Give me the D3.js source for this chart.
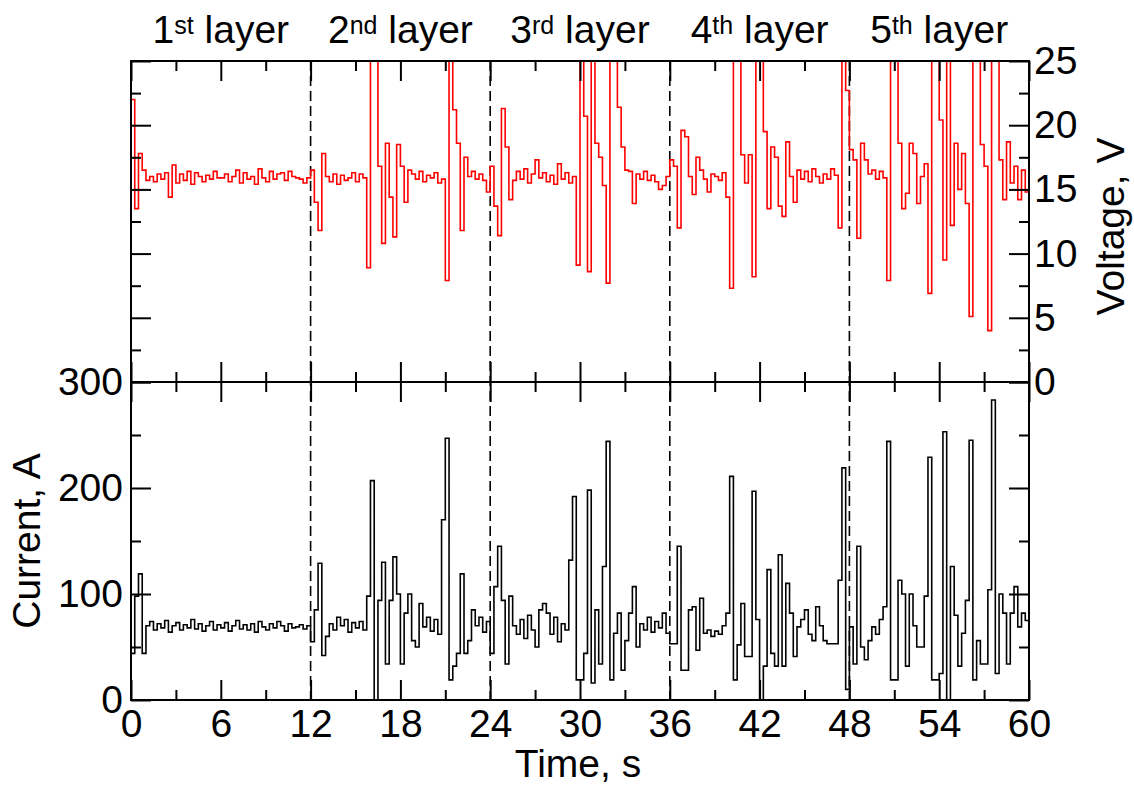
<!DOCTYPE html>
<html>
<head>
<meta charset="utf-8">
<script src="https://cdn.jsdelivr.net/npm/d3@7"></script>
<style>
  body { margin: 0; background: #fff; }
  svg { display: block; }
</style>
</head>
<body>
<div id="chart"></div>
<script>
const dt = 0.25;
const voltage = [
  22, 13.5, 17.8, 16.5,   15.7, 16.0, 15.6, 16.2,   15.8, 16.3, 14.4, 16.9,   15.5, 16.2, 15.7, 16.4,
  15.4, 16.3, 16.0, 15.6,   16.1, 15.8, 16.4, 15.9,   15.9, 16.2, 15.6, 16.0,   16.5, 15.5, 16.3, 15.8,
  16.0, 15.4, 16.6, 15.9,   15.6, 16.4, 15.8, 16.2,   16.3, 15.7, 16.4, 16.0,   15.9, 15.8, 15.5, 15.9,
  16.5, 14.0, 11.8, 17.8,   16.0, 15.6, 16.2, 15.4,   16.1, 15.7, 15.9, 16.3,   15.6, 16.2, 15.9, 8.9,
  30, 30, 16.8, 10.8,       18.6, 14.4, 11.3, 18.5,   16.8, 14.0, 16.5, 16.2,   15.8, 16.4, 15.6, 16.1,
  15.9, 16.3, 15.5, 15.8,   7.9, 30, 21.2, 18.6,      11.8, 17.5, 16.0, 16.4,   15.8, 16.2, 15.7, 14.8,
  16.8, 13.7, 11.4, 21.3,   18.3, 14.2, 15.7, 16.4,   15.8, 16.6, 15.5, 16.2,   17.3, 15.9, 16.3, 15.6,
  16.1, 15.4, 17.0, 15.8,   16.3, 15.5, 16.0, 9.1,    30, 20.7, 8.6, 30,        18.6, 17.5, 15.3, 7.7,
  30, 30, 21.4, 18.3,       16.5, 16.4, 13.9, 16.2,   15.8, 16.4, 15.7, 16.1,   15.6, 15.0, 15.3, 16.0,
  17.3, 16.8, 12.0, 19.6,   19.1, 16.0, 14.6, 17.5,   16.5, 15.8, 14.8, 16.2,   16.0, 15.7, 16.3, 14.4,
  7.3, 30, 30, 17.7,        15.5, 17.7, 8.2, 30,      30, 19.5, 13.5, 18.3,     17.5, 13.7, 12.9, 18.7,
  16.0, 14.0, 16.5, 15.8,   16.4, 15.6, 16.6, 16.0,   15.5, 16.2, 15.8, 16.6,   16.1, 12.0, 30, 22.7,
  18.1, 17.3, 11.2, 18.6,   17.3, 16.2, 16.5, 15.8,   16.4, 15.9, 7.9, 30,      30, 18.6, 13.5, 14.7,
  18.6, 17.8, 13.9, 16.0,   17.0, 6.9, 30, 30,        20.4, 9.5, 30, 12.2,      18.6, 15.0, 17.8, 13.9,
  5.1, 30, 30, 18.5,        16.8, 4.0, 30, 30,        17.3, 14.2, 18.7, 15.5,   16.8, 14.2, 16.5, 14.8
];
const current = [
  44, 98, 119, 44,    70, 74, 66, 72,     68, 75, 64, 70,     73, 66, 71, 68,
  76, 67, 72, 65,     70, 74, 66, 71,     68, 73, 65, 70,     75, 67, 71, 66,
  72, 64, 74, 69,     66, 72, 68, 74,     70, 65, 72, 68,     69, 71, 67, 70,
  55, 85, 129, 42,    60, 72, 66, 78,     70, 76, 64, 73,     68, 74, 66, 98,
  207, 0, 94, 130,    34, 94, 135, 100,   34, 82, 100, 56,    50, 91, 69, 78,
  65, 76, 62, 170,    247, 19, 32, 44,    119, 44, 56, 85,    70, 78, 64, 74,
  44, 107, 145, 94,   34, 98, 70, 62,     76, 58, 80, 66,     50, 85, 91, 82,
  62, 78, 55, 72,     66, 132, 192, 19,   19, 44, 198, 16,    85, 34, 126, 244,
  19, 63, 82, 28,     56, 82, 107, 50,    72, 66, 78, 64,     74, 68, 82, 63,
  53, 53, 145, 28,    28, 85, 88, 47,     96, 63, 66, 60,     65, 62, 70, 82,
  211, 19, 52, 91,    41, 41, 197, 76,    0, 32, 123, 44,     32, 137, 32, 110,
  82, 41, 69, 76,     85, 62, 56, 88,     70, 56, 53, 53,     53, 113, 219, 10,
  69, 34, 145, 50,    38, 56, 69, 62,     76, 88, 244, 19,    19, 113, 100, 32,
  100, 70, 50, 50,    98, 229, 19, 19,    25, 253, 0, 126,    80, 32, 63, 94,
  245, 19, 56, 34,    34, 104, 283, 25,   100, 82, 34, 82,    107, 69, 82, 75
];
const layerBounds = [0, 12, 24, 36, 48, 60];
const layerNums = ["1", "2", "3", "4", "5"];
const layerSups = ["st", "nd", "rd", "th", "th"];
const timeTicks = [0, 6, 12, 18, 24, 30, 36, 42, 48, 54, 60];
const timeMinor = [3, 9, 15, 21, 27, 33, 39, 45, 51, 57];
const voltTicks = [0, 5, 10, 15, 20, 25];
const voltMinor = [2.5, 7.5, 12.5, 17.5, 22.5];
const currTicks = [0, 100, 200, 300];
const currMinor = [50, 150, 250];

const width = 1134, height = 789;
const plotLeft = 131, plotRight = 1029, plotTop = 61, plotMid = 382, plotBottom = 700;
const font = "'Liberation Sans', Arial, sans-serif";
const fs = 39;

const svg = d3.select("#chart").append("svg")
    .attr("width", width)
    .attr("height", height)
    .attr("font-family", font);

const x = d3.scaleLinear().domain([0, 60]).range([plotLeft, plotRight]);
const yV = d3.scaleLinear().domain([0, 25]).range([plotMid, plotTop]);
const yI = d3.scaleLinear().domain([0, 300]).range([plotBottom, plotMid]);

// clip regions for the two panels
const defs = svg.append("defs");
defs.append("clipPath").attr("id", "clipV").append("rect")
    .attr("x", plotLeft).attr("y", plotTop).attr("width", plotRight - plotLeft).attr("height", plotMid - plotTop);
defs.append("clipPath").attr("id", "clipI").append("rect")
    .attr("x", plotLeft).attr("y", plotMid).attr("width", plotRight - plotLeft).attr("height", plotBottom - plotMid);

// layer separators
layerBounds.slice(1, -1).forEach(b => {
    svg.append("line")
        .attr("x1", x(b)).attr("x2", x(b))
        .attr("y1", plotTop).attr("y2", plotBottom)
        .attr("stroke", "#000")
        .attr("stroke-width", 1.6)
        .attr("stroke-dasharray", "10,5");
});

// series
const toPts = arr => arr.map((v, i) => [i * dt, v]).concat([[60, arr[arr.length - 1]]]);

const lineV = d3.line().x(d => x(d[0])).y(d => yV(d[1])).curve(d3.curveStepAfter);
const lineI = d3.line().x(d => x(d[0])).y(d => yI(d[1])).curve(d3.curveStepAfter);

svg.append("path")
    .datum(toPts(voltage))
    .attr("clip-path", "url(#clipV)")
    .attr("fill", "none")
    .attr("stroke", "#ff0000")
    .attr("stroke-width", 1.6)
    .attr("d", lineV);

svg.append("path")
    .datum(toPts(current))
    .attr("clip-path", "url(#clipI)")
    .attr("fill", "none")
    .attr("stroke", "#000")
    .attr("stroke-width", 1.6)
    .attr("d", lineI);

// axes (ticks point inwards)
function drawAxis(axis, tx, ty) {
    const g = svg.append("g").attr("transform", `translate(${tx},${ty})`).call(axis);
    g.select(".domain").remove();
    g.selectAll("line").attr("stroke", "#000").attr("stroke-width", 2);
    g.attr("font-size", fs).attr("font-family", font);
    g.selectAll("text").attr("fill", "#000");
    return g;
}
const none = () => "";

// time ticks on all four horizontal edges
drawAxis(d3.axisTop(x).tickValues(timeTicks).tickSize(-20).tickFormat(none), 0, plotTop);
drawAxis(d3.axisTop(x).tickValues(timeMinor).tickSize(-10).tickFormat(none), 0, plotTop);
drawAxis(d3.axisBottom(x).tickValues(timeTicks).tickSize(-20).tickFormat(none), 0, plotMid);
drawAxis(d3.axisBottom(x).tickValues(timeMinor).tickSize(-10).tickFormat(none), 0, plotMid);
drawAxis(d3.axisTop(x).tickValues(timeTicks).tickSize(-20).tickFormat(none), 0, plotMid);
drawAxis(d3.axisTop(x).tickValues(timeMinor).tickSize(-10).tickFormat(none), 0, plotMid);
drawAxis(d3.axisBottom(x).tickValues(timeTicks).tickSize(-20).tickPadding(9), 0, plotBottom);
drawAxis(d3.axisBottom(x).tickValues(timeMinor).tickSize(-10).tickFormat(none), 0, plotBottom);

// voltage: left ticks only, right ticks with labels
drawAxis(d3.axisLeft(yV).tickValues(voltTicks).tickSize(-20).tickFormat(none), plotLeft, 0);
drawAxis(d3.axisLeft(yV).tickValues(voltMinor).tickSize(-10).tickFormat(none), plotLeft, 0);
drawAxis(d3.axisRight(yV).tickValues(voltTicks).tickSize(-20).tickPadding(5), plotRight, 0);
drawAxis(d3.axisRight(yV).tickValues(voltMinor).tickSize(-10).tickFormat(none), plotRight, 0);

// current: left ticks with labels, right ticks only
drawAxis(d3.axisLeft(yI).tickValues(currTicks).tickSize(-20).tickPadding(8), plotLeft, 0);
drawAxis(d3.axisLeft(yI).tickValues(currMinor).tickSize(-10).tickFormat(none), plotLeft, 0);
drawAxis(d3.axisRight(yI).tickValues(currTicks).tickSize(-20).tickFormat(none), plotRight, 0);
drawAxis(d3.axisRight(yI).tickValues(currMinor).tickSize(-10).tickFormat(none), plotRight, 0);

// frame
svg.append("rect")
    .attr("x", plotLeft).attr("y", plotTop)
    .attr("width", plotRight - plotLeft).attr("height", plotBottom - plotTop)
    .attr("fill", "none").attr("stroke", "#000").attr("stroke-width", 2);
svg.append("line")
    .attr("x1", plotLeft).attr("x2", plotRight).attr("y1", plotMid).attr("y2", plotMid)
    .attr("stroke", "#000").attr("stroke-width", 2);

// layer titles
layerNums.forEach((n, i) => {
    const t = svg.append("text")
        .attr("x", x((layerBounds[i] + layerBounds[i + 1]) / 2))
        .attr("y", 43)
        .attr("text-anchor", "middle")
        .attr("font-size", fs)
        .attr("fill", "#000");
    t.append("tspan").text(n);
    t.append("tspan").attr("font-size", 25).attr("dy", -9).text(layerSups[i]);
    t.append("tspan").attr("dy", 9).text(" layer");
});

// axis titles
svg.append("text")
    .attr("x", (plotLeft + plotRight) / 2 - 2)
    .attr("y", 777)
    .attr("text-anchor", "middle")
    .attr("font-size", fs)
    .attr("fill", "#000")
    .text("Time, s");

svg.append("text")
    .attr("transform", `translate(40,${(plotMid + plotBottom) / 2}) rotate(-90)`)
    .attr("text-anchor", "middle")
    .attr("font-size", fs)
    .attr("fill", "#000")
    .text("Current, A");

svg.append("text")
    .attr("transform", `translate(1124,${(plotTop + plotMid) / 2 + 5}) rotate(-90)`)
    .attr("text-anchor", "middle")
    .attr("font-size", fs)
    .attr("fill", "#000")
    .text("Voltage, V");
</script>
</body>
</html>
